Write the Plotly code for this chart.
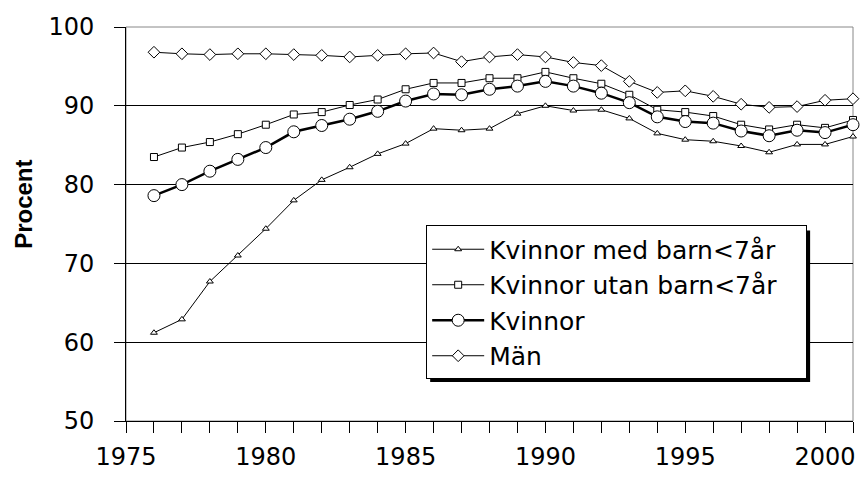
import plotly.graph_objects as go

years = list(range(1976, 2002))
kv_med = [61.2, 62.9, 67.7, 71.0, 74.4, 78.0, 80.6, 82.2, 83.9, 85.2, 87.1, 86.9, 87.1,
          89.0, 90.0, 89.4, 89.5, 88.4, 86.5, 85.7, 85.5, 84.9, 84.1, 85.1, 85.1, 86.1]
kv_utan = [83.5, 84.7, 85.4, 86.4, 87.6, 88.9, 89.2, 90.1, 90.8, 92.1, 92.9, 92.9, 93.5,
           93.5, 94.3, 93.5, 92.8, 91.4, 89.5, 89.2, 88.7, 87.6, 87.0, 87.6, 87.2, 88.2]
kvinnor = [78.6, 80.0, 81.7, 83.2, 84.7, 86.7, 87.5, 88.3, 89.3, 90.6, 91.5, 91.4, 92.1,
           92.5, 93.1, 92.5, 91.6, 90.4, 88.6, 88.0, 87.8, 86.8, 86.2, 86.9, 86.6, 87.6]
man = [96.8, 96.6, 96.5, 96.6, 96.6, 96.5, 96.4, 96.2, 96.4, 96.6, 96.7, 95.6, 96.2,
       96.5, 96.2, 95.5, 95.1, 93.1, 91.7, 91.9, 91.2, 90.2, 89.8, 89.9, 90.7, 90.9]

names = ["Kvinnor med barn<7år", "Kvinnor utan barn<7år", "Kvinnor", "Män"]
x_tickvals = list(range(1975, 2002))
x_ticktext = [str(y) if y % 5 == 0 else "" for y in x_tickvals]
y_tickvals = [50, 60, 70, 80, 90, 100]
y_title = "Procent"

FONT = "DejaVu Sans"
PAD = "&nbsp;" * 3

fig = go.Figure()
specs = [
    (kv_med, names[0], "triangle-up", 6, 1),
    (kv_utan, names[1], "square", 7, 1),
    (kvinnor, names[2], "circle", 12, 2.5),
    (man, names[3], "diamond", 9, 1),
]
for vals, nm, sym, sz, lw in specs:
    fig.add_trace(go.Scatter(
        x=years, y=vals, name=nm + PAD, mode="lines+markers",
        line=dict(color="black", width=lw),
        marker=dict(symbol=sym, size=sz, color="white", line=dict(color="black", width=1)),
        cliponaxis=False,
    ))

L, R, T, B = 126, 6, 27, 55
W, H = 861, 477
pw, ph = W - L - R, H - T - B

def px_x(p):
    return (p - L) / pw

def px_y(p):
    return (H - B - p) / ph

# plot border (gray) and legend shadow
fig.add_shape(type="rect", xref="paper", yref="paper", x0=0, x1=1, y0=0, y1=1,
              line=dict(color="#888888", width=1), layer="between")
fig.add_shape(type="rect", xref="paper", yref="paper",
              x0=px_x(431), x1=px_x(812), y0=px_y(383), y1=px_y(231),
              fillcolor="black", line=dict(width=0), layer="above")

fig.add_annotation(text=f"<b>{y_title}</b>", xref="paper", yref="paper",
                   x=px_x(23), y=px_y(205), xanchor="center", yanchor="middle",
                   textangle=-90, showarrow=False,
                   font=dict(family="Liberation Sans", size=24, color="black"))

fig.update_layout(
    width=W, height=H,
    margin=dict(l=L, r=R, t=T, b=B),
    paper_bgcolor="white", plot_bgcolor="white",
    font=dict(family=FONT, size=24, color="black"),
    showlegend=True,
    legend=dict(x=px_x(427), y=px_y(226), xanchor="left", yanchor="top",
                bgcolor="white", bordercolor="black", borderwidth=1,
                font=dict(family=FONT, size=25, color="black"),
                itemwidth=52, tracegroupgap=0),
    xaxis=dict(range=[1975, 2001], tickvals=x_tickvals, ticktext=x_ticktext,
               ticks="outside", ticklen=11, tickcolor="black", tickwidth=1,
               showline=True, linecolor="black", linewidth=1,
               showgrid=False, zeroline=False, ticklabelstandoff=3),
    yaxis=dict(range=[50, 100], tickvals=y_tickvals,
               ticks="outside", ticklen=11, tickcolor="black", tickwidth=1,
               showline=True, linecolor="black", linewidth=1,
               showgrid=True, gridcolor="black", gridwidth=1,
               zeroline=False, ticklabelstandoff=15),
)

fig.write_html("out.html", config={"displayModeBar": False},
               post_script="document.body.style.margin='0';document.body.style.padding='0';")
